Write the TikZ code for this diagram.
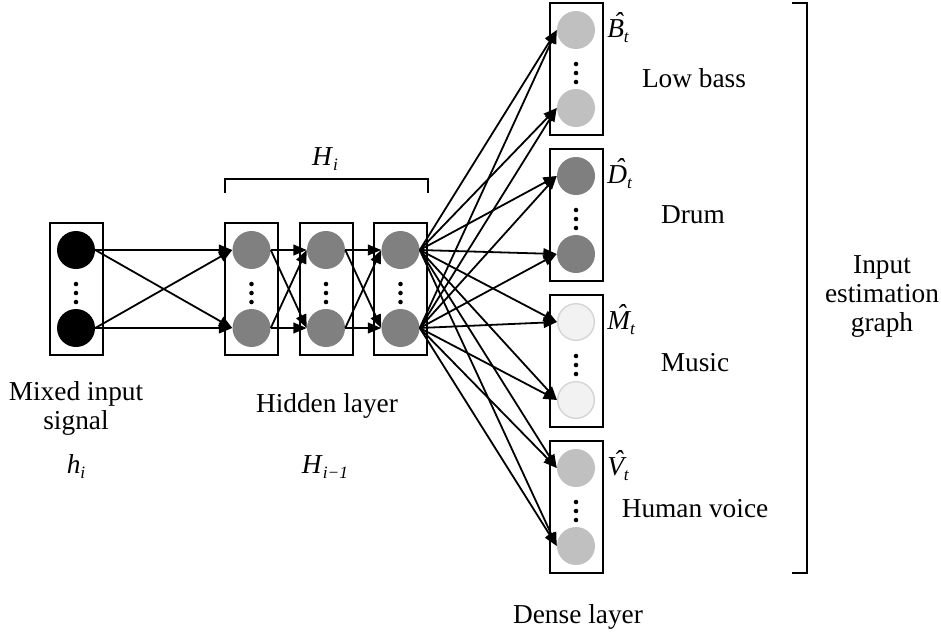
\documentclass[tikz,border=0pt]{standalone}
\usepackage{fontspec}
\setmainfont{Liberation Serif}
\usetikzlibrary{arrows.meta,calc}
\definecolor{hidgray}{HTML}{808080}
\definecolor{bassgray}{HTML}{C0C0C0}
\definecolor{drumgray}{HTML}{7F7F7F}
\definecolor{musicfill}{HTML}{F2F2F2}
\definecolor{musicline}{HTML}{D6D6D6}
\definecolor{voicegray}{HTML}{C0C0C0}
% italic symbol with a lowered subscript
\newcommand{\symsub}[2]{\textit{#1}\raisebox{-0.45ex}{\fontsize{13}{13}\selectfont\textit{#2}}}
% italic capital with a circumflex hat above it
\newcommand{\hatsym}[1]{\ooalign{\textit{#1}\cr\hidewidth\kern0.18em\raisebox{0.2em}{\textit{\char"02C6}}\hidewidth\cr}}
\begin{document}
\begin{tikzpicture}[x=0.75pt,y=-0.75pt,
  neuron/.style={circle,minimum size=28.5pt,inner sep=0pt,draw=none},
  layerbox/.style={draw=black,line width=1.5pt,minimum width=39.75pt,minimum height=99pt,inner sep=0pt},
  conn/.style={-{Triangle[length=10pt,width=8pt]},line width=1.35pt},
  lbl/.style={font=\fontsize{20.5}{21.75}\selectfont,align=center,inner sep=0pt},
  brk/.style={line width=1.5pt},
  dotfill/.style={fill=black}
  ]
\useasboundingbox (0,0) rectangle (941,633);

% layer boxes
\node[layerbox] (L0) at (76,288.5) {};
\node[layerbox] (L1) at (251.5,288.5) {};
\node[layerbox] (L2) at (326,288.5) {};
\node[layerbox] (L3) at (400.5,288.5) {};
\node[layerbox] (DB) at (576,69) {};
\node[layerbox] (DD) at (576,215) {};
\node[layerbox] (DM) at (576,361) {};
\node[layerbox] (DV) at (576,507) {};

% input neurons
\node[neuron,fill=black] (i1) at (76,250) {};
\node[neuron,fill=black] (i2) at (76,328) {};
% hidden neurons
\node[neuron,fill=hidgray] (h1a) at (251.5,250) {};
\node[neuron,fill=hidgray] (h1b) at (251.5,328) {};
\node[neuron,fill=hidgray] (h2a) at (326,250) {};
\node[neuron,fill=hidgray] (h2b) at (326,328) {};
\node[neuron,fill=hidgray] (h3a) at (400.5,250) {};
\node[neuron,fill=hidgray] (h3b) at (400.5,328) {};
% dense neurons
\node[neuron,fill=bassgray] (b1) at (576,30) {};
\node[neuron,fill=bassgray] (b2) at (576,108) {};
\node[neuron,fill=drumgray] (d1) at (576,176) {};
\node[neuron,fill=drumgray] (d2) at (576,254) {};
\node[neuron,fill=musicfill,draw=musicline,line width=1.1pt,minimum size=27.5pt] (m1) at (576,322) {};
\node[neuron,fill=musicfill,draw=musicline,line width=1.1pt,minimum size=27.5pt] (m2) at (576,400) {};
\node[neuron,fill=voicegray] (v1) at (576,468) {};
\node[neuron,fill=voicegray] (v2) at (576,546) {};

% vertical ellipsis dots in each box
\foreach \x/\y in {76/293,251.5/293,326/293,400.5/293,576/73,576/219,576/365,576/511}{
  \foreach \d in {-9,0,9}{
    \fill[dotfill] (\x,\y+\d) circle[radius=1.7pt];
  }
}

% connections
\foreach \a in {i1,i2}{\foreach \b in {h1a,h1b}{\draw[conn] (\a.east) -- (\b.west);}}
\foreach \a in {h1a,h1b}{\foreach \b in {h2a,h2b}{\draw[conn] (\a.east) -- (\b.west);}}
\foreach \a in {h2a,h2b}{\foreach \b in {h3a,h3b}{\draw[conn] (\a.east) -- (\b.west);}}
\foreach \a in {h3a,h3b}{\foreach \b in {b1,b2,d1,d2,m1,m2,v1,v2}{\draw[conn] (\a.east) -- (\b.west);}}

% bracket over the hidden layers
\coordinate (hl) at (225,193);
\coordinate (hr) at (428,193);
\draw[brk] (hl) -- ++(0,-14) -- ($(hr)+(0,-14)$) -- (hr);
% bracket right of the dense layer
\coordinate (rt) at (792,3);
\coordinate (rb) at (792,573);
\draw[brk] (rt) -- ++(15,0) -- ($(rb)+(15,0)$) -- (rb);

% labels
\node[lbl,anchor=base] (Hi) at (325,165) {\symsub{H}{i}};
\node[lbl] (mix) at (76,408) {Mixed input\\signal};
\node[lbl,anchor=base] (hi) at (76,473) {\symsub{h}{i}};
\node[lbl,anchor=base] (hid) at (327,412) {Hidden layer};
\node[lbl,anchor=base] (Him) at (325,473) {\symsub{H}{i−1}};
\node[lbl,anchor=base] (dense) at (578,623) {Dense layer};
\node[lbl,anchor=base west] (Bt) at (607,37) {\symsub{\hatsym{B}}{t}};
\node[lbl,anchor=base west] (Dt) at (607,183) {\symsub{\hatsym{D}}{t}};
\node[lbl,anchor=base west] (Mt) at (607,329) {\symsub{\hatsym{M}}{t}};
\node[lbl,anchor=base west] (Vt) at (607,475) {\symsub{\hatsym{V}}{t}};
\node[lbl,anchor=base] (bass) at (694,87) {Low bass};
\node[lbl,anchor=base] (drum) at (693,223) {Drum};
\node[lbl,anchor=base] (music) at (695,371) {Music};
\node[lbl,anchor=base] (voice) at (695,517) {Human voice};
\node[lbl] (ieg) at (882,296) {Input\\estimation\\graph};
\end{tikzpicture}
\end{document}
